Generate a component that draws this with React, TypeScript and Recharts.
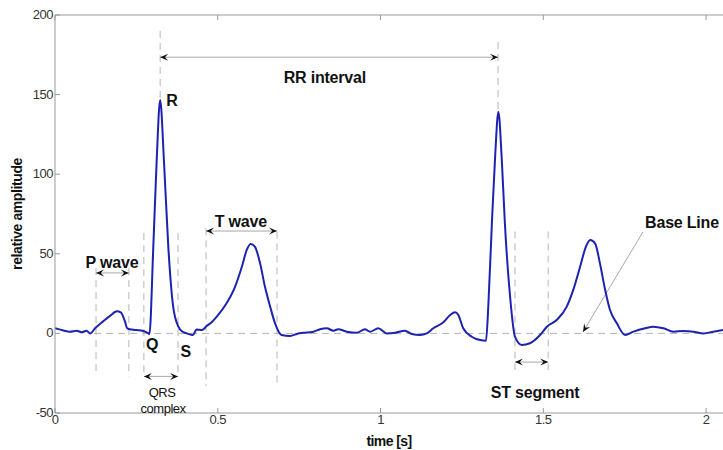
import React from "react";
import { LineChart, Line, XAxis, YAxis, ReferenceLine, ReferenceDot } from "recharts";

// ECG trace
const time = [
  0.0, 0.023, 0.046, 0.067, 0.082, 0.097, 0.108, 0.123, 0.147, 0.169, 0.19, 0.202, 0.215, 0.222, 0.236,
  0.251, 0.271, 0.287, 0.29, 0.302, 0.312, 0.323, 0.335, 0.348, 0.363, 0.379, 0.392, 0.405, 0.424, 0.435,
  0.451, 0.466, 0.482, 0.497, 0.527, 0.553, 0.574, 0.589, 0.601, 0.614, 0.63, 0.645, 0.661, 0.676, 0.696,
  0.722, 0.747, 0.763, 0.794, 0.814, 0.835, 0.855, 0.87, 0.896, 0.927, 0.952, 0.968, 0.993, 1.019, 1.045,
  1.075, 1.096, 1.121, 1.142, 1.162, 1.193, 1.214, 1.229, 1.239, 1.254, 1.28, 1.306, 1.324, 1.331, 1.342,
  1.352, 1.362, 1.372, 1.382, 1.398, 1.413, 1.434, 1.459, 1.49, 1.511, 1.541, 1.572, 1.592, 1.613, 1.631,
  1.644, 1.659, 1.674, 1.69, 1.705, 1.726, 1.751, 1.777, 1.813, 1.838, 1.869, 1.9, 1.93, 1.961, 1.992,
  2.022, 2.052,
];
const amplitude = [
  3.2, 2.0, 1.1, 1.7, 0.7, 1.7, 0.0, 3.2, 7.4, 11.0, 13.9, 13.2, 7.4, 3.2, 2.4,
  2.1, 1.5, 0.0, -0.5, 54.5, 106.8, 146.6, 107.0, 54.5, 16.8, 4.2, 1.0, 0.0, -1.0, 2.5,
  2.1, 4.6, 7.2, 10.5, 18.9, 29.3, 41.9, 52.4, 56.2, 54.5, 44.0, 29.3, 16.8, 6.3, -1.0,
  -1.6, 0.0, 0.4, 1.1, 2.6, 3.2, 1.7, 2.6, 1.1, 0.4, 2.6, 1.1, 3.2, 0.0, 0.4,
  1.7, -0.4, -1.0, 0.0, 3.2, 7.0, 11.6, 13.3, 11.6, 3.2, -2.1, -4.2, -4.6, 16.8, 69.0,
  111.0, 139.3, 111.0, 69.0, 23.0, -2.1, -7.3, -6.2, -1.0, 4.2, 8.4, 16.8, 27.3, 41.9, 54.5,
  58.7, 56.6, 44.0, 27.3, 14.7, 6.3, -1.0, 1.1, 3.2, 4.2, 3.2, 1.1, 1.5, 1.1, 0.0,
  1.1, 2.1,
];

const xTicks = [0, 0.5, 1, 1.5, 2];
const yTicks = [-50, 0, 50, 100, 150, 200];

// annotation text: [text, time, amplitude]
const boldLabels: [string, number, number][] = [
  ["R", 0.359, 146.6],
  ["RR interval", 0.829, 160.5],
  ["P wave", 0.175, 44.8],
  ["T wave", 0.571, 70.6],
  ["Q", 0.298, -6.7],
  ["S", 0.402, -11.6],
  ["ST segment", 1.475, -36.8],
  ["Base Line", 1.926, 70],
];
const smallLabels: [string, number, number][] = [
  ["QRS", 0.329, -37.4],
  ["complex", 0.332, -46.9],
];

// double arrows: [from time, to time, amplitude]
const spans: [number, number, number][] = [
  [0.126, 0.227, 38],
  [0.273, 0.378, -27],
  [0.464, 0.682, 64.3],
  [0.323, 1.361, 173.5],
  [1.413, 1.515, -18],
];

// dashed markers: [time, top, bottom]
const markers: [number, number, number][] = [
  [0.126, 41, -27],
  [0.227, 41, -27],
  [0.273, 63, -27],
  [0.378, 63, -27],
  [0.464, 66, -33],
  [0.682, 64, -33],
  [0.323, 190, 147],
  [1.361, 183, 140],
  [1.413, 64, -23],
  [1.515, 64, -23],
];

const baseLinePointer: [number, number][] = [
  [1.806, 63.7],
  [1.622, 0.9],
];

const data = time.map((t, i) => ({ t, v: amplitude[i] }));

const PLOT_TOP = 15;
const PLOT_BOTTOM = 413;
const PLOT_LEFT = 55;
const FONT = "'Liberation Sans', Arial, sans-serif";

const head = (x: number, y: number, dx: number, dy: number) => {
  const len = Math.hypot(dx, dy) || 1;
  const ux = dx / len;
  const uy = dy / len;
  const L = 8;
  const W = 3.5;
  const pts = [
    [x, y],
    [x - ux * L - uy * W, y - uy * L + ux * W],
    [x - ux * L * 0.6, y - uy * L * 0.6],
    [x - ux * L + uy * W, y - uy * L - ux * W],
  ];
  return <polygon points={pts.map((p) => p.join(",")).join(" ")} fill="#111" />;
};

const doubleArrow = (props: any) => {
  const { x1, y1, x2, y2 } = props;
  return (
    <g>
      <line x1={x1} y1={y1} x2={x2} y2={y2} stroke="#a8a8a8" strokeWidth={1} />
      {head(x1, y1, x1 - x2, y1 - y2)}
      {head(x2, y2, x2 - x1, y2 - y1)}
    </g>
  );
};

const singleArrow = (props: any) => {
  const { x1, y1, x2, y2 } = props;
  return (
    <g>
      <line x1={x1} y1={y1} x2={x2} y2={y2} stroke="#a8a8a8" strokeWidth={1} />
      {head(x2, y2, x2 - x1, y2 - y1)}
    </g>
  );
};

const XTick = (props: any) => {
  const { x, payload } = props;
  return (
    <g>
      <line x1={x} x2={x} y1={PLOT_BOTTOM} y2={PLOT_BOTTOM - 5} stroke="#999" />
      <line x1={x} x2={x} y1={PLOT_TOP} y2={PLOT_TOP + 5} stroke="#999" />
      <text x={x} y={PLOT_BOTTOM + 11} textAnchor="middle" fontSize={13} fill="#333" fontFamily={FONT} letterSpacing={-0.5}>
        {payload.value}
      </text>
    </g>
  );
};

const YTick = (props: any) => {
  const { y, payload } = props;
  return (
    <g>
      <line x1={PLOT_LEFT} x2={PLOT_LEFT + 5} y1={y} y2={y} stroke="#999" />
      <text x={PLOT_LEFT - 2} y={y + 4} textAnchor="end" fontSize={13} fill="#333" fontFamily={FONT} letterSpacing={-0.5}>
        {payload.value}
      </text>
    </g>
  );
};

const textShape = (text: string, size: number, weight: string, spacing: number) => (p: any) => (
  <text
    x={p.cx}
    y={p.cy}
    dy={size * 0.35}
    textAnchor="middle"
    fontSize={size}
    fontWeight={weight}
    fill="#111"
    fontFamily={FONT}
    letterSpacing={spacing}
  >
    {text}
  </text>
);

export default function App() {
  return (
    <div style={{ position: "absolute", left: 0, top: 0, width: 723, height: 450, background: "#fff" }}>
      <LineChart width={723} height={450} data={data} margin={{ top: PLOT_TOP, right: 0, left: 0, bottom: 0 }}>
        <XAxis
          dataKey="t"
          type="number"
          domain={[0, 2.052]}
          ticks={xTicks}
          allowDataOverflow
          height={450 - PLOT_BOTTOM}
          stroke="#999"
          tickLine={false}
          tick={<XTick />}
          label={{ value: "time [s]", position: "insideBottom", offset: 4, fill: "#111", fontSize: 14, fontWeight: "bold", fontFamily: FONT, letterSpacing: -0.6 }}
        />
        <YAxis
          type="number"
          domain={[-50, 200]}
          ticks={yTicks}
          allowDataOverflow
          width={PLOT_LEFT}
          stroke="#999"
          tickLine={false}
          tick={<YTick />}
          label={{ value: "relative amplitude", angle: -90, position: "insideLeft", offset: 17, fill: "#111", fontSize: 14, fontWeight: "bold", fontFamily: FONT, letterSpacing: -0.4, style: { textAnchor: "middle" } }}
        />
        <ReferenceLine y={200} stroke="#bbb" strokeWidth={1.5} />
        <ReferenceLine segment={[{ x: 0.12, y: 0 }, { x: 2.052, y: 0 }]} stroke="#b5b5b5" strokeDasharray="7 5" />
        {markers.map(([t, top, bottom], i) => (
          <ReferenceLine
            key={"m" + i}
            segment={[{ x: t, y: top }, { x: t, y: bottom }]}
            stroke="#b5b5b5"
            strokeDasharray="7 5"
          />
        ))}
        {spans.map(([a, b, v], i) => (
          <ReferenceLine key={"s" + i} segment={[{ x: a, y: v }, { x: b, y: v }]} shape={doubleArrow} />
        ))}
        <ReferenceLine
          segment={[
            { x: baseLinePointer[0][0], y: baseLinePointer[0][1] },
            { x: baseLinePointer[1][0], y: baseLinePointer[1][1] },
          ]}
          shape={singleArrow}
        />
        <Line
          type="monotone"
          dataKey="v"
          stroke="#1e22b0"
          strokeWidth={2}
          dot={false}
          isAnimationActive={false}
        />
        {boldLabels.map(([text, t, v]) => (
          <ReferenceDot key={text} x={t} y={v} r={0} shape={textShape(text, 16, "bold", -0.2)} />
        ))}
        {smallLabels.map(([text, t, v]) => (
          <ReferenceDot key={text} x={t} y={v} r={0} shape={textShape(text, 13, "normal", -0.5)} />
        ))}
      </LineChart>
    </div>
  );
}
